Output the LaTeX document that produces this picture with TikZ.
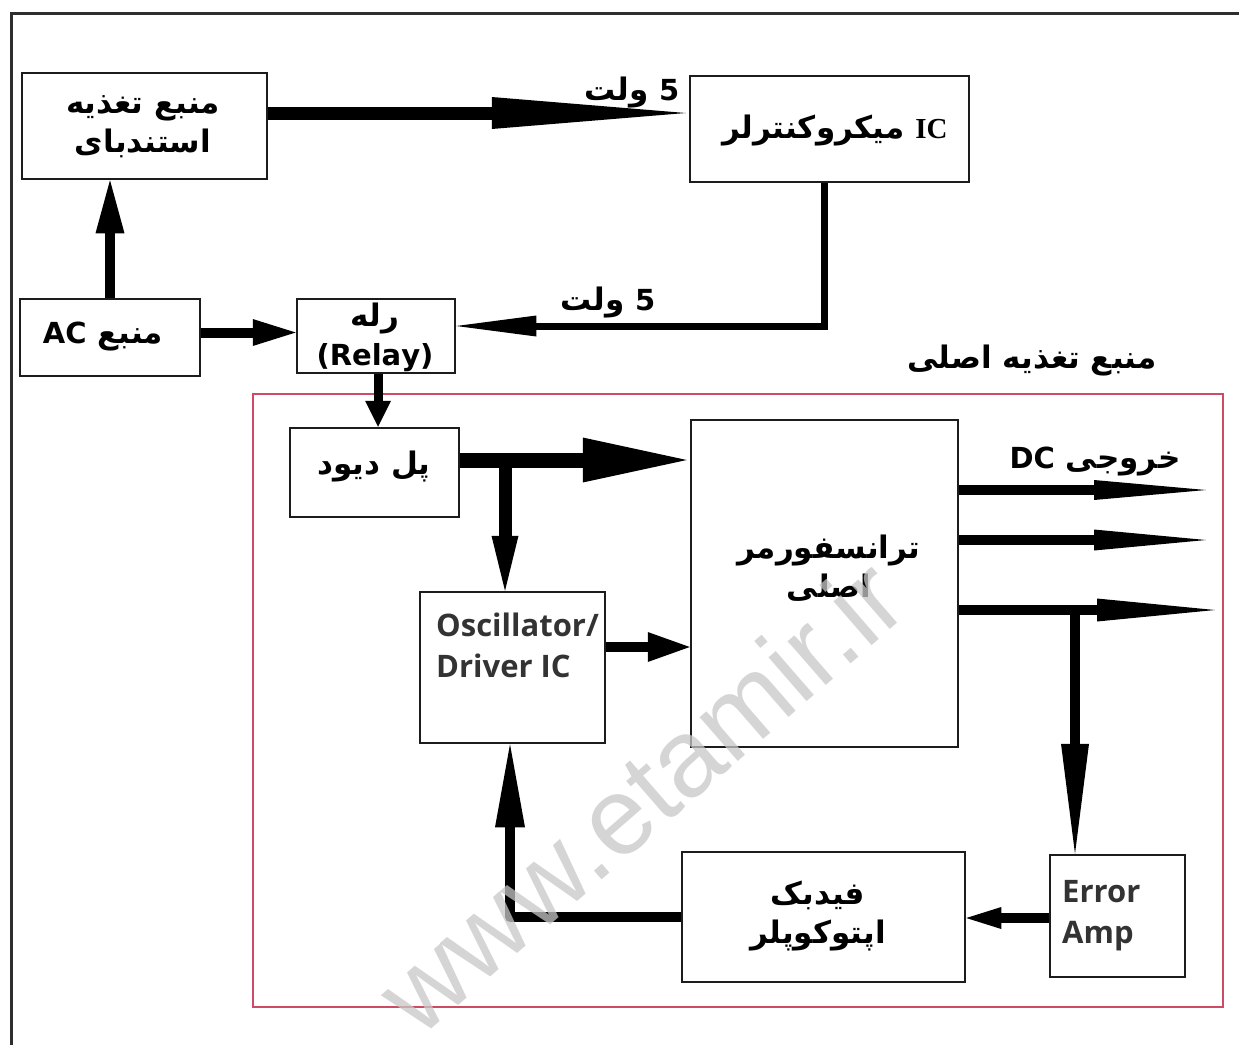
\documentclass[tikz,border=0pt]{standalone}
\usepackage{fontspec}
\usetikzlibrary{arrows.meta}
\TeXXeTstate=1
\newfontfamily\fab[Script=Arabic]{DejaVu Sans Bold}
\newfontfamily\serb{Liberation Serif}
\newfontfamily\osans{Open Sans}
\newfontfamily\wmfont{Liberation Sans}
\definecolor{boxcol}{HTML}{1C1C1C}
\definecolor{framecol}{HTML}{2E2E2E}
\definecolor{redframe}{RGB}{205,75,100}
\definecolor{oscgray}{HTML}{333333}
\definecolor{wmgray}{RGB}{200,200,200}
\newcommand\latsz{\fontsize{29}{39}\selectfont}

\begin{document}
\begin{tikzpicture}[x=1pt,y=-1pt,
  box/.style={draw=boxcol, line width=2.5pt, inner sep=0pt},
  fa/.style={font=\fab\fontsize{31}{39}\selectfont, align=center, inner sep=0pt},
  lt/.style={font=\osans\bfseries\fontsize{31}{41}\selectfont, text=oscgray, align=left, inner sep=0pt, anchor=north west},
  flow/.style={draw=black, line width=#1},
  head/.style 2 args={-{Triangle[length=#1,width=#2,line width=0pt]}},
]
\useasboundingbox (0,0) rectangle (1239,1045);
\fill[white] (0,0) rectangle (1239,1045);

% outer frame (top and left edges)
\draw[framecol, line width=3pt] (11,1045) -- (11,13) -- (1239,13);

% main supply frame
\node[draw=redframe, line width=2.5pt, inner sep=0pt, minimum width=970pt, minimum height=613pt] (mainframe) at (738,700.5) {};
\node[fa] (mainframe-t) at (1032,360) {\beginR منبع تغذیه اصلی\endR};

% blocks
\node[box, minimum width=245pt, minimum height=106pt] (standby) at (144.5,126) {};
\node[box, minimum width=180pt, minimum height=77pt]  (ac)      at (110,337.5) {};
\node[box, minimum width=158pt, minimum height=74pt]  (relay)   at (376,336) {};
\node[box, minimum width=279pt, minimum height=106pt] (micro)   at (829.5,129) {};
\node[box, minimum width=169pt, minimum height=89pt]  (bridge)  at (374.5,472.5) {};
\node[box, minimum width=185pt, minimum height=151pt] (osc)     at (512.5,667.5) {};
\node[box, minimum width=267pt, minimum height=327pt] (trans)   at (824.5,583.5) {};
\node[box, minimum width=135pt, minimum height=122pt] (erramp)  at (1117.5,916) {};
\node[box, minimum width=283pt, minimum height=130pt] (fback)   at (823.5,917) {};

% block texts
\node[fa] (standby-t) at (143,127) {\beginR منبع تغذیه\endR\\\beginR استندبای\endR};
\node[fa] (ac-t) at (103,337) {\beginR منبع \beginL{\latsz AC}\endL\endR};
\node[fa] (relay-t) at (375,337) {\beginR رله\endR\\{\latsz (Relay)}};
\node[fa] (micro-t) at (835,131) {\beginR\beginL{\serb\bfseries\latsz IC}\endL{} میکروکنترلر\endR};
\node[fa] (bridge-t) at (374,466) {\beginR پل دیود\endR};
\node[fa] (trans-t) at (829,568) {\beginR ترانسفورمر\endR\\\beginR اصلی\endR};
\node[fa] (fback-t) at (818,916) {\beginR فیدبک\endR\\\beginR اپتوکوپلر\endR};
\node[lt] (osc-t) at (436,613) {Oscillator/\\Driver IC};
\node[lt] (erramp-t) at (1062,880) {Error\\Amp};

% voltage labels
\node[fa] (v5a) at (632,93) {\beginR \beginL{\latsz 5}\endL{} ولت\endR};
\node[fa] (v5b) at (608,302) {\beginR \beginL{\latsz 5}\endL{} ولت\endR};
\node[fa] (dcout-t) at (1095,462) {\beginR خروجی \beginL{\latsz DC}\endL\endR};

% connectors
\draw[flow=10pt, head={53pt}{29pt}] (ac.north) -- (ac.north |- standby.south);
\draw[flow=13pt, head={194pt}{32pt}] (standby.east) ++(0,-13) coordinate (sbout) -- ([xshift=-3pt]sbout -| micro.west);
\draw[flow=7pt, head={80pt}{21pt}] ([xshift=-5.5pt]micro.south) |- ([yshift=10pt]relay.east);
\draw[flow=10pt, head={43pt}{27pt}] (ac.east) ++(0,-5) coordinate (acout) -- (acout -| relay.west);
\draw[flow=9pt, head={26pt}{26pt}] ([xshift=2pt]relay.south) -- ([xshift=2pt]relay.south |- bridge.north);
\draw[flow=15pt, head={104pt}{45pt}] (bridge.east) ++(0,-12.5) coordinate (brout) -- ([xshift=-3pt]brout -| trans.west);
\draw[flow=13pt, head={55pt}{27pt}] ([xshift=-7.5pt]osc.north |- brout) -- ([xshift=-7.5pt]osc.north);
\draw[flow=10pt, head={42pt}{30pt}] ([yshift=20.5pt]osc.east) -- ([yshift=20.5pt]osc.east -| trans.west);

\coordinate (dc1) at (1206,490);
\coordinate (dc2) at (1206,540);
\coordinate (dc3) at (1215,610);
\draw[flow=10pt, head={112pt}{20pt}] (trans.east |- dc1) -- (dc1);
\draw[flow=10pt, head={112pt}{21pt}] (trans.east |- dc2) -- (dc2);
\draw[flow=10pt, head={118pt}{23pt}] (trans.east |- dc3) -- (dc3);
\draw[flow=10pt, head={110pt}{28pt}] ([xshift=-42.5pt]erramp.north |- dc3) -- ([xshift=-42.5pt]erramp.north);
\draw[flow=10pt, head={35pt}{22pt}] ([yshift=-2pt]erramp.west) -- ([yshift=-2pt]erramp.west -| fback.east);
\draw[flow=10pt, line join=round, head={83pt}{30pt}] (fback.west) -| ([xshift=-2.5pt]osc.south);

% watermark
\node[rotate=41, font=\wmfont\fontsize{110}{110}\selectfont, text=wmgray, opacity=0.75, inner sep=0pt] (wm) at (640,795) {www.etamir.ir};
\end{tikzpicture}
\end{document}
